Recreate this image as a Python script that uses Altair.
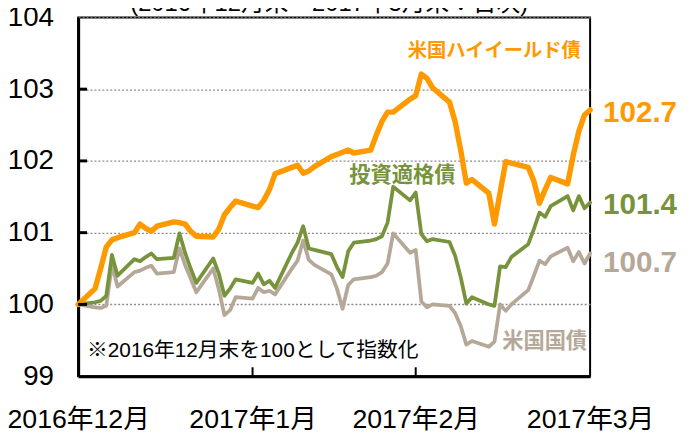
import altair as alt
import pandas as pd

# ---- data ----
dates = [
    "2016-12-30",
    "2017-01-02", "2017-01-03", "2017-01-04", "2017-01-05", "2017-01-06",
    "2017-01-09", "2017-01-10", "2017-01-11", "2017-01-12", "2017-01-13",
    "2017-01-16", "2017-01-17", "2017-01-18", "2017-01-19", "2017-01-20",
    "2017-01-23", "2017-01-24", "2017-01-25", "2017-01-26", "2017-01-27",
    "2017-01-30", "2017-01-31", "2017-02-01", "2017-02-02", "2017-02-03",
    "2017-02-06", "2017-02-07", "2017-02-08", "2017-02-09", "2017-02-10",
    "2017-02-13", "2017-02-14", "2017-02-15", "2017-02-16", "2017-02-17",
    "2017-02-20", "2017-02-21", "2017-02-22", "2017-02-23", "2017-02-24",
    "2017-02-27", "2017-02-28", "2017-03-01", "2017-03-02", "2017-03-03",
    "2017-03-06", "2017-03-07", "2017-03-08", "2017-03-09", "2017-03-10",
    "2017-03-13", "2017-03-14", "2017-03-15", "2017-03-16", "2017-03-17",
    "2017-03-20", "2017-03-21", "2017-03-22", "2017-03-23", "2017-03-24",
    "2017-03-27", "2017-03-28", "2017-03-29", "2017-03-30", "2017-03-31",
]

high_yield = [
    100.00,
    100.22, 100.50, 100.80, 100.90, 100.93,
    101.00, 101.12, 101.06, 101.02, 101.09,
    101.15, 101.14, 101.12, 101.02, 100.95,
    100.94, 101.05, 101.25, 101.35, 101.44,
    101.37, 101.35, 101.45, 101.60, 101.82,
    101.91, 101.94, 101.83, 101.86, 101.92,
    102.06, 102.09, 102.12, 102.15, 102.11,
    102.15, 102.36, 102.55, 102.68, 102.68,
    102.86, 102.91, 103.21, 103.15, 103.02,
    102.82, 102.55, 102.15, 101.69, 101.74,
    101.55, 101.12, 101.56, 101.99, 101.97,
    101.91, 101.72, 101.41, 101.60, 101.77,
    101.68, 102.08, 102.41, 102.64, 102.71,
]

inv_grade = [
    100.00,
    100.03, 100.05, 100.12, 100.69, 100.40,
    100.63, 100.60, 100.66, 100.71, 100.63,
    100.65, 100.99, 100.72, 100.50, 100.30,
    100.64, 100.43, 100.12, 100.22, 100.35,
    100.30, 100.43, 100.28, 100.33, 100.23,
    100.72, 100.86, 101.09, 100.78, 100.76,
    100.70, 100.52, 100.38, 100.74, 100.86,
    100.89, 100.91, 100.95, 101.14, 101.64,
    101.45, 101.56, 100.98, 100.88, 100.91,
    100.87, 100.68, 100.38, 100.01, 100.10,
    100.00, 99.98, 100.53, 100.52, 100.66,
    100.84, 101.05, 101.28, 101.22, 101.37,
    101.51, 101.31, 101.51, 101.34, 101.42,
]

treasury = [
    100.00,
    99.96, 99.95, 99.98, 100.55, 100.25,
    100.45, 100.47, 100.51, 100.54, 100.43,
    100.45, 100.78, 100.55, 100.36, 100.17,
    100.50, 100.21, 99.85, 99.92, 100.10,
    100.08, 100.23, 100.17, 100.19, 100.14,
    100.50, 100.61, 100.89, 100.62, 100.55,
    100.42, 100.22, 99.94, 100.27, 100.35,
    100.38, 100.40, 100.45, 100.57, 100.99,
    100.72, 100.76, 100.04, 99.96, 100.00,
    99.98, 99.88, 99.70, 99.44, 99.49,
    99.41, 99.48, 100.00, 99.91, 100.00,
    100.20, 100.40, 100.61, 100.56, 100.67,
    100.79, 100.60, 100.73, 100.57, 100.71,
]

series_names = ["米国ハイイールド債", "投資適格債", "米国国債"]
y_ticks = [99, 100, 101, 102, 103, 104]
inner_y_ticks = [100, 101, 102, 103]
month_marks = [(2016, 12, 30), (2017, 1, 30), (2017, 2, 28), (2017, 3, 31)]
inner_x_ticks = ["2017-01-30", "2017-02-28"]
note_text = "※2016年12月末を100として指数化"
title_text = "(2016年12月末～2017年3月末：日次)"

# ---- styles ----
ORANGE = "#FF9900"
GREEN = "#77933C"
GRAY = "#B5A898"
FONT = "'Liberation Sans', 'Noto Sans CJK JP', sans-serif"
W, H = 518, 363

x_scale = alt.Scale(
    type="utc",
    domain=[alt.DateTime(year=2016, month=12, date=30, utc=True),
            alt.DateTime(year=2017, month=3, date=31, utc=True)],
    nice=False,
)
x_axis = alt.Axis(
    values=[alt.DateTime(year=y, month=m, date=d, utc=True) for (y, m, d) in month_marks],
    labelExpr="utcFormat(datum.value, '%Y') + '年' + (utcmonth(datum.value) + 1) + '月'",
    labelFont=FONT, labelFontSize=27, labelColor="black", labelPadding=31,
    labelFlush=False, labelOverlap=False, ticks=False,
    domainColor="black", domainWidth=3, grid=False, title=None,
)
y_scale = alt.Scale(domain=[99, 104], nice=False, zero=False)
y_axis = alt.Axis(
    values=y_ticks, format="d",
    labelFont=FONT, labelFontSize=28, labelColor="black", labelPadding=25,
    labelFlush=False, ticks=False,
    domainColor="black", domainWidth=3,
    grid=True, gridColor="#8c8c8c", gridDash=[2, 2], gridWidth=1.3, title=None,
)

X = alt.X("date:T", scale=x_scale, axis=x_axis, title=None)
Y = alt.Y("value:Q", scale=y_scale, axis=y_axis, title=None)


def line(vals, color, width):
    df = pd.DataFrame({"date": dates, "value": vals})
    return alt.Chart(df).mark_line(
        color=color, strokeWidth=width, strokeJoin="round", strokeCap="round"
    ).encode(x=X, y=Y)


def end_label(vals, color, dy):
    df = pd.DataFrame({"date": [dates[-1]], "value": [vals[-1]]})
    return alt.Chart(df).mark_text(
        align="left", baseline="middle", dx=13, dy=dy,
        font=FONT, fontSize=30, fontWeight="bold", color=color,
    ).encode(x=X, y=Y, text=alt.Text("value:Q", format=".1f"))


def free_text(txt, x, y, color, size, weight="normal", align="center", baseline="middle"):
    df = pd.DataFrame({"t": [txt]})
    return alt.Chart(df).mark_text(
        align=align, baseline=baseline, font=FONT, fontSize=size,
        fontWeight=weight, color=color,
    ).encode(x=alt.value(x), y=alt.value(y), text="t:N")


y_tick_rules = alt.Chart(pd.DataFrame({"value": inner_y_ticks})).mark_rule(
    color="black", strokeWidth=3
).encode(y=Y, x=alt.value(0), x2=alt.value(9))

x_tick_rules = alt.Chart(pd.DataFrame({"date": inner_x_ticks})).mark_rule(
    color="black", strokeWidth=2
).encode(x=X, y=alt.value(H), y2=alt.value(H - 9))

chart = alt.layer(
    line(treasury, GRAY, 3.8),
    line(inv_grade, GREEN, 3.8),
    line(high_yield, ORANGE, 5.5),
    y_tick_rules,
    x_tick_rules,
    end_label(high_yield, ORANGE, 3),
    end_label(inv_grade, GREEN, 3),
    end_label(treasury, GRAY, 10),
    free_text(series_names[0], 421, 34, ORANGE, 19.5, "bold"),
    free_text(series_names[1], 328, 161, GREEN, 21.5, "bold"),
    free_text(series_names[2], 472, 328, GRAY, 21.5, "bold"),
    free_text(note_text, 9, 338, "black", 21, align="left"),
    free_text(title_text, 254, -6, "black", 24, baseline="alphabetic"),
).properties(
    width=W, height=H,
    autosize=alt.AutoSizeParams(type="none"),
    padding={"left": 71, "top": 7, "right": 94, "bottom": 56},
).configure_view(stroke="black", strokeWidth=2)

chart.save("out.html", embed_options={"renderer": "svg", "actions": False})
